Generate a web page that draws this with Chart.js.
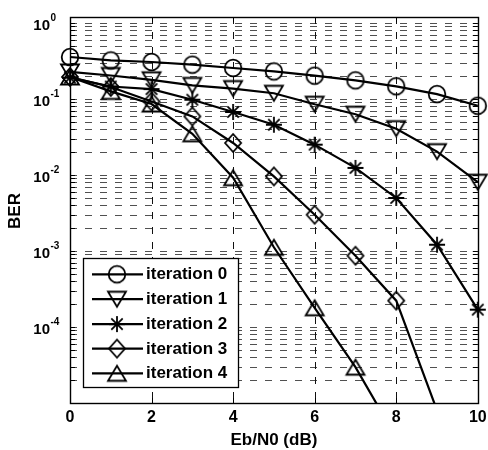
<!DOCTYPE html>
<html><head><meta charset="utf-8">
<script src="https://cdn.jsdelivr.net/npm/chart.js@4.4.1/dist/chart.umd.min.js"></script>
<style>html,body{margin:0;padding:0;background:#fff}#wrap{width:488px;height:450px;position:relative}</style>
</head><body><div id="wrap"><canvas id="c"></canvas></div>
<script>
// ---- data ----
const ebn0 = [0, 1, 2, 3, 4, 5, 6, 7, 8, 9, 10];
const iter0 = [0.357, 0.322, 0.307, 0.283, 0.256, 0.231, 0.203, 0.176, 0.147, 0.116, 0.0816];
const iter1 = [0.227, 0.204, 0.179, 0.151, 0.137, 0.119, 0.0854, 0.0631, 0.0407, 0.0203, 0.00804];
const iter2 = [0.191, 0.146, 0.135, 0.0979, 0.0675, 0.0459, 0.0251, 0.0124, 0.00499, 0.00121, 0.000169];
const iter3 = [0.195, 0.144, 0.0929, 0.0590, 0.0264, 0.00959, 0.00300, 0.000867, 0.000222, 0.000008];
const iter4 = [0.195, 0.126, 0.0859, 0.0349, 0.00921, 0.00112, 0.000179, 0.0000296, 0.0000035];
const seriesNames = ['iteration 0', 'iteration 1', 'iteration 2', 'iteration 3', 'iteration 4'];
const markerKinds = ['circle', 'triDown', 'star', 'diamond', 'triUp'];
const xTickValues = [0, 2, 4, 6, 8, 10];
const xTickLabels = ['0', '2', '4', '6', '8', '10'];
const yDecadeExps = [0, -1, -2, -3, -4];
const yTickBase = '10';
const yTickExpLabels = ['0', '-1', '-2', '-3', '-4'];
const xTitle = 'Eb/N0 (dB)';
const yTitle = 'BER';
const yMin = 1e-5, yMax = 1.2;

// ---- marker images (Matlab-like open markers) ----
function makeMarker(kind) {
  const c = document.createElement('canvas');
  c.width = 24; c.height = 24;
  const g = c.getContext('2d');
  g.strokeStyle = '#000'; g.lineWidth = 1.8; g.lineJoin = 'miter';
  g.translate(12, 12);
  g.beginPath();
  if (kind === 'circle') { g.arc(0, 0, 8.3, 0, Math.PI * 2); }
  else if (kind === 'triUp') { g.moveTo(0, -7.5); g.lineTo(9, 7.5); g.lineTo(-9, 7.5); g.closePath(); }
  else if (kind === 'triDown') { g.moveTo(0, 7.5); g.lineTo(9, -7.5); g.lineTo(-9, -7.5); g.closePath(); }
  else if (kind === 'diamond') { g.moveTo(0, -9); g.lineTo(8, 0); g.lineTo(0, 9); g.lineTo(-8, 0); g.closePath(); }
  else if (kind === 'star') {
    const r = 8, d = 5.7;
    g.moveTo(-r, 0); g.lineTo(r, 0); g.moveTo(0, -r); g.lineTo(0, r);
    g.moveTo(-d, -d); g.lineTo(d, d); g.moveTo(-d, d); g.lineTo(d, -d);
  }
  g.stroke();
  return c;
}
const markers = markerKinds.map(makeMarker);
const allSeries = [iter0, iter1, iter2, iter3, iter4];

const datasets = allSeries.map((s, i) => ({
  label: seriesNames[i],
  data: s.map((v, j) => ({ x: ebn0[j], y: v })),
  borderColor: '#000',
  borderWidth: 2.2,
  fill: false,
  tension: 0,
  pointStyle: markers[i],
  pointRadius: (ctx) => (ctx.raw && ctx.raw.y < yMin ? 0 : 8),
  clip: { left: false, top: false, right: false, bottom: 0 }
}));

const yGrid = [];
for (let k = -5; k <= -1; k++) for (let m = 1; m <= 9; m++) { const v = m * Math.pow(10, k); if (v > yMin * 1.0001) yGrid.push(v); }
yGrid.push(1);

const FONT = '"Liberation Sans", Arial, Helvetica, sans-serif';

const deco = {
  id: 'deco',
  beforeDatasetsDraw(chart) {
    const { ctx, chartArea: a, scales: { x, y } } = chart;
    ctx.save();
    ctx.lineWidth = 1.2;
    ctx.setLineDash([7, 8]);
    ctx.strokeStyle = '#505050';
    for (const v of yGrid) {
      const py = Math.round(y.getPixelForValue(v)) + 0.5;
      ctx.beginPath(); ctx.moveTo(a.left, py); ctx.lineTo(a.right, py); ctx.stroke();
    }
    ctx.lineWidth = 1;
    ctx.strokeStyle = '#111';
    for (const v of xTickValues.slice(1, -1)) {
      const px = Math.round(x.getPixelForValue(v)) + 0.5;
      ctx.beginPath(); ctx.moveTo(px, a.top); ctx.lineTo(px, a.bottom); ctx.stroke();
    }
    ctx.setLineDash([]);
    // inside tick marks
    ctx.strokeStyle = '#000';
    for (const v of yGrid) {
      const py = Math.round(y.getPixelForValue(v)) + 0.5;
      ctx.beginPath(); ctx.moveTo(a.left, py); ctx.lineTo(a.left + 5, py);
      ctx.moveTo(a.right, py); ctx.lineTo(a.right - 5, py); ctx.stroke();
    }
    for (const v of xTickValues) {
      const px = Math.round(x.getPixelForValue(v)) + 0.5;
      ctx.beginPath(); ctx.moveTo(px, a.bottom); ctx.lineTo(px, a.bottom - 5);
      ctx.moveTo(px, a.top); ctx.lineTo(px, a.top + 5); ctx.stroke();
    }
    ctx.restore();
  },
  afterDraw(chart) {
    const { ctx, chartArea: a, scales: { x, y } } = chart;
    ctx.save();
    // axes box
    ctx.strokeStyle = '#000'; ctx.lineWidth = 1.4;
    ctx.strokeRect(Math.round(a.left) + 0.5, Math.round(a.top) + 0.5, Math.round(a.right - a.left), Math.round(a.bottom - a.top));
    ctx.fillStyle = '#000';
    // x tick labels
    ctx.font = 'bold 16px ' + FONT;
    ctx.textAlign = 'center'; ctx.textBaseline = 'middle';
    xTickValues.forEach((v, i) => ctx.fillText(xTickLabels[i], x.getPixelForValue(v), 418));
    // x title
    ctx.font = 'bold 17px ' + FONT;
    ctx.fillText(xTitle, (a.left + a.right) / 2, 440);
    // y title
    ctx.save();
    ctx.translate(15.5, (a.top + a.bottom) / 2 + 1);
    ctx.rotate(-Math.PI / 2);
    ctx.font = 'bold 17px ' + FONT;
    ctx.fillText(yTitle, 0, 0);
    ctx.restore();
    // y tick labels 10^k
    yDecadeExps.forEach((e, i) => {
      const py = y.getPixelForValue(Math.pow(10, e));
      ctx.font = 'bold 15px ' + FONT;
      ctx.textAlign = 'right';
      ctx.fillText(yTickBase, 50, py + 2.5);
      ctx.font = 'bold 10px ' + FONT;
      ctx.textAlign = 'left';
      ctx.fillText(yTickExpLabels[i], 50.5, py - 4.5);
    });
    // legend
    const L = { l: 83.5, t: 258.5, w: 155, h: 129 };
    ctx.fillStyle = '#fff';
    ctx.fillRect(L.l, L.t, L.w, L.h);
    ctx.strokeStyle = '#000'; ctx.lineWidth = 1.3;
    ctx.strokeRect(L.l, L.t, L.w, L.h);
    const rowY = [274.3, 299.2, 324.1, 348.6, 373.3];
    ctx.font = 'bold 17px ' + FONT;
    ctx.textAlign = 'left'; ctx.textBaseline = 'middle';
    seriesNames.forEach((name, i) => {
      const cy = rowY[i];
      ctx.strokeStyle = '#000'; ctx.lineWidth = 2.2;
      ctx.beginPath(); ctx.moveTo(92, cy); ctx.lineTo(143, cy); ctx.stroke();
      ctx.drawImage(markers[i], 117 - 12, cy - 12);
      ctx.fillStyle = '#000';
      ctx.fillText(name, 146, cy + 0.5);
    });
    ctx.restore();
  }
};

new Chart(document.getElementById('c'), {
  type: 'line',
  data: { datasets },
  options: {
    responsive: true,
    maintainAspectRatio: false,
    animation: false,
    events: [],
    layout: { padding: { left: 0, right: 7, top: 17, bottom: 0 } },
    plugins: { legend: { display: false }, tooltip: { enabled: false } },
    scales: {
      x: {
        type: 'linear', min: 0, max: 10,
        grid: { display: false }, border: { display: false },
        ticks: { display: false },
        afterFit(s) { s.height = 47; }
      },
      y: {
        type: 'logarithmic', min: yMin, max: yMax,
        grid: { display: false }, border: { display: false },
        ticks: { display: false },
        afterFit(s) { s.width = 70; }
      }
    }
  },
  plugins: [deco]
});
</script>
</body></html>
